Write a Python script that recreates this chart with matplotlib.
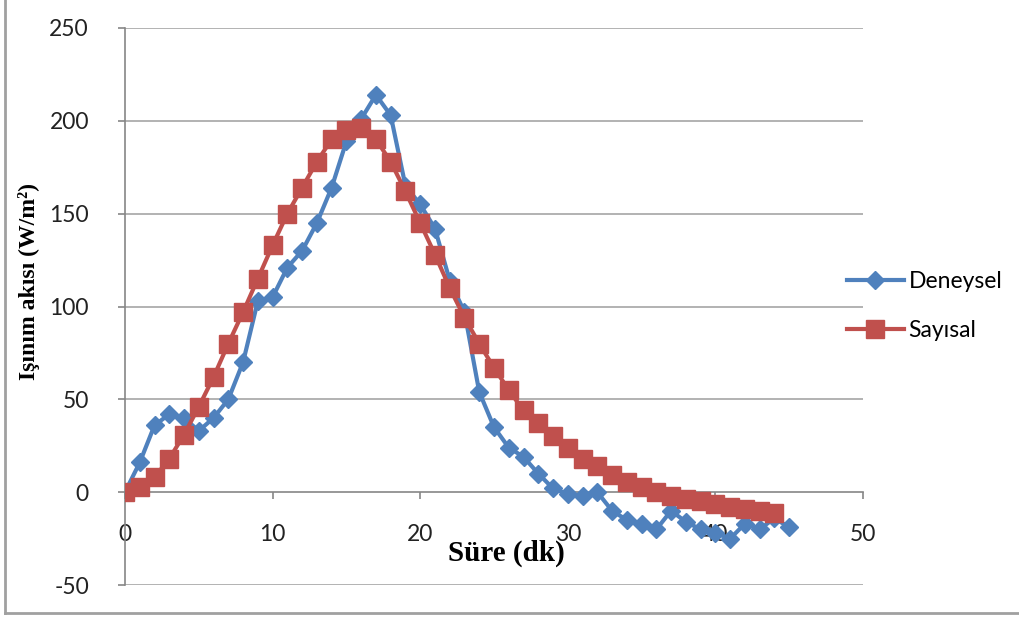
import matplotlib
matplotlib.use("Agg")
import matplotlib.pyplot as plt
from matplotlib.lines import Line2D

plt.rcParams["axes.unicode_minus"] = False

# time axis (minutes)
sure = list(range(46))

# measured radiative flux (W/m2)
deneysel = [0, 16, 36, 42, 40, 33, 40, 50, 70, 103, 105, 121, 130, 145, 164,
            189, 201, 214, 203, 165, 155, 142, 114, 97, 54, 35, 24, 19, 10, 2,
            -1, -2, 0, -10, -15, -17, -20, -10, -16, -20, -22, -25, -17, -20,
            -14, -19]

# computed radiative flux (W/m2), one point per minute up to 44
sure_sayisal = list(range(45))
sayisal = [0, 3, 8, 18, 31, 46, 62, 80, 97, 115, 133, 150, 164, 178, 190,
           195, 196, 190, 178, 162, 145, 128, 110, 94, 80, 67, 55, 44, 37, 30,
           24, 18, 14, 9, 5.5, 3, 0, -2, -3.5, -5, -6.5, -8, -9, -10, -11]

x_ticks = [0, 10, 20, 30, 40, 50]
y_ticks = [-50, 0, 50, 100, 150, 200, 250]

blue = "#4F81BD"
red = "#C0504D"
grid_col = "#A6A6A6"
axis_col = "#868686"
tick_font = "Lato"
label_font = "Liberation Serif"

fig = plt.figure(figsize=(10.2, 6.18), dpi=100)
ax = fig.add_axes([125 / 1020, 1 - 585 / 618, 738 / 1020, 557 / 618])

for y in y_ticks:
    if y != 0:
        ax.axhline(y, color=grid_col, linewidth=1.2, zorder=0)

ax.plot(sure, deneysel, color=blue, linewidth=3, marker="D", markersize=9.5,
        markerfacecolor=blue, markeredgecolor=blue, zorder=3, label="Deneysel")
ax.plot(sure_sayisal, sayisal, color=red, linewidth=3, marker="s",
        markersize=13, markerfacecolor=red, markeredgecolor=red, zorder=4,
        label="Sayısal")

ax.set_xlim(0, 50)
ax.set_ylim(-50, 250)

for side in ["top", "right"]:
    ax.spines[side].set_visible(False)
ax.spines["bottom"].set_position(("data", 0))
ax.spines["bottom"].set_color(axis_col)
ax.spines["left"].set_color(axis_col)
ax.spines["bottom"].set_linewidth(1.2)
ax.spines["left"].set_linewidth(1.2)

ax.set_xticks(x_ticks)
ax.set_yticks(y_ticks)
ax.tick_params(axis="x", direction="out", length=5, width=1.2,
               color=axis_col, pad=18, labelsize=16.5)
ax.tick_params(axis="y", direction="out", length=5, width=1.2,
               color=axis_col, pad=21, labelsize=16.5)
for lbl in ax.get_xticklabels() + ax.get_yticklabels():
    lbl.set_fontfamily(tick_font)
    lbl.set_color("#222222")

fig.text(506 / 1020, 1 - 553 / 618, "Süre (dk)", family=label_font,
         fontweight="bold", fontsize=21, ha="center", va="center")
fig.text(29 / 1020, 1 - 281 / 618, "Işınım akısı (W/m²)", family=label_font,
         fontweight="bold", fontsize=17, ha="center", va="center",
         rotation=90)

handles = [
    Line2D([], [], color=blue, linewidth=3, marker="D", markersize=9.5),
    Line2D([], [], color=red, linewidth=3, marker="s", markersize=13),
]
fig.legend(handles, ["Deneysel", "Sayısal"], loc="center left",
           bbox_to_anchor=(826 / 1020, 1 - 306 / 618), frameon=False,
           prop={"family": tick_font, "size": 16.5}, handlelength=2.5,
           handletextpad=0.2, labelspacing=1.25)

# outer frame edges on the left and bottom
fig.add_artist(Line2D([5 / 1020, 5 / 1020], [1 - 613 / 618, 1.0],
                      transform=fig.transFigure, color="#A0A0A0", linewidth=2))
fig.add_artist(Line2D([5 / 1020, 1.0], [1 - 613 / 618, 1 - 613 / 618],
                      transform=fig.transFigure, color="#A0A0A0", linewidth=2))

fig.savefig("out.png", dpi=100)
